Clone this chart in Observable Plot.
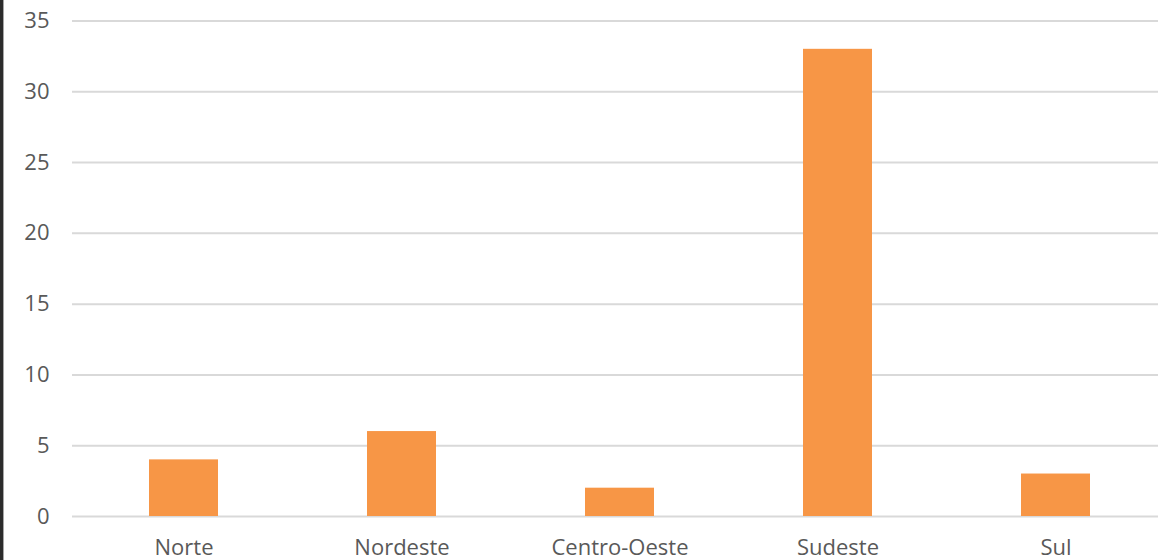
<!DOCTYPE html>
<html>
<head>
<meta charset="utf-8">
<script src="https://cdn.jsdelivr.net/npm/d3@7"></script>
<script src="https://cdn.jsdelivr.net/npm/@observablehq/plot@0.6"></script>
<style>
  html, body { margin: 0; padding: 0; background: #fff; }
  #wrap { position: relative; width: 1158px; height: 560px; overflow: hidden; }
  #edge { position: absolute; left: 0; top: 0; width: 3px; height: 560px; background: #2b2b2b; }
  #edge2 { position: absolute; left: 3px; top: 0; width: 1px; height: 560px; background: #a6a6a6; }
</style>
</head>
<body>
<div id="wrap"></div>
<script>
const regions = ["Norte", "Nordeste", "Centro-Oeste", "Sudeste", "Sul"];
const counts = [4, 6, 2, 33, 3];
const yTicks = [0, 5, 10, 15, 20, 25, 30, 35];

const data = regions.map((r, i) => ({region: r, value: counts[i]}));

const chart = Plot.plot({
  width: 1158,
  height: 560,
  marginLeft: 72,
  marginRight: 0,
  marginTop: 20.5,
  marginBottom: 44,
  style: {fontFamily: "'Open Sans', sans-serif", color: "#595959", background: "#fff"},
  x: {domain: regions, range: [72.6, 1167.1], paddingInner: 0.683, paddingOuter: 0.3415, label: null},
  y: {domain: [0, 35], label: null},
  marks: [
    Plot.ruleY(yTicks, {stroke: "#d9d9d9", strokeWidth: 2}),
    Plot.barY(data, {x: "region", y: "value", fill: "#F79646"}),
    Plot.axisY(yTicks, {tickSize: 0, tickPadding: 23, fontSize: 22, fill: "#595959", label: null}),
    Plot.axisX({tickSize: 0, tickPadding: 23, fontSize: 22, fill: "#595959", label: null})
  ]
});

const wrap = document.getElementById("wrap");
wrap.appendChild(chart);
const e1 = document.createElement("div"); e1.id = "edge"; wrap.appendChild(e1);
const e2 = document.createElement("div"); e2.id = "edge2"; wrap.appendChild(e2);
</script>
</body>
</html>
